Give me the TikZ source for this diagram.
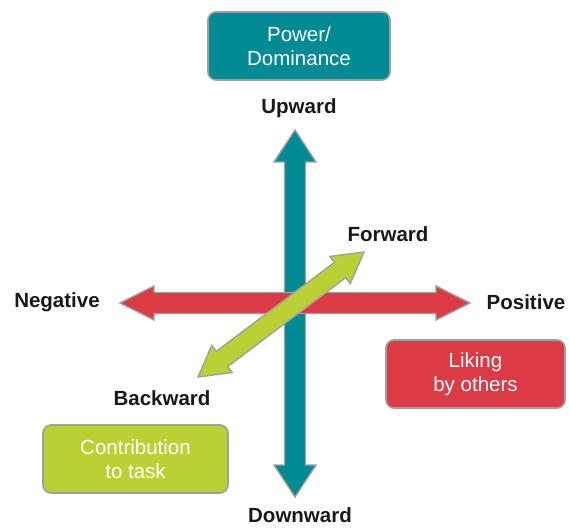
\documentclass[tikz,border=0pt]{standalone}
\usepackage{fontspec}
\setmainfont{Liberation Sans}
\usetikzlibrary{positioning}
\definecolor{tealc}{RGB}{0,138,148}
\definecolor{redc}{RGB}{220,58,69}
\definecolor{greenc}{RGB}{186,208,52}
\definecolor{edgec}{RGB}{160,160,160}
\tikzset{
  box/.style={draw=edgec, line width=1.6pt, rounded corners=8pt, minimum width=#1, minimum height=68pt,
    text=white, align=center, font=\fontsize{20.5}{24}\selectfont, inner sep=0pt},
  lab/.style={font=\bfseries\fontsize{20.5}{24}\selectfont, text=black!90, inner sep=0pt},
  arrline/.style={draw=edgec, line width=1.4pt, line join=miter}
}
% #1 length, #2 shaft half, #3 head half, #4 head length, #5 colour
\newcommand\fatarr[5]{%
  \draw[arrline, fill=#5] (0,0) -- (#4,#3) -- (#4,#2) -- (#1-#4,#2) -- (#1-#4,#3) -- (#1,0)
    -- (#1-#4,-#3) -- (#1-#4,-#2) -- (#4,-#2) -- (#4,-#3) -- cycle;}
\begin{document}
\begin{tikzpicture}[x=1pt,y=1pt]
\useasboundingbox (0,0) rectangle (569,527);
% vertical teal arrow
\coordinate (vbot) at (295,30);
\coordinate (vtop) at (295,397);
\begin{scope}[shift={(vbot)}, rotate=90]
  \fatarr{367}{10.5}{21}{32}{tealc}
\end{scope}
% horizontal red arrow
\coordinate (hleft) at (120,224);
\coordinate (hright) at (470,224);
\begin{scope}[shift={(hleft)}]
  \fatarr{350}{10.5}{17}{34}{redc}
\end{scope}
% diagonal green arrow
\coordinate (dlow) at (198,150);
\coordinate (dhigh) at (364,275);
\begin{scope}[shift={(dlow)}, rotate=36.98]
  \fatarr{207.8}{9.5}{17}{30}{greenc}
\end{scope}
% labels
\node[lab] (up) at (299,419) {Upward};
\node[lab] (down) at (300,12) {Downward};
\node[lab] (neg) at (57,225) {Negative};
\node[lab] (pos) at (526,225) {Positive};
\node[lab] (fwd) at (388,293) {Forward};
\node[lab] (bwd) at (162,129) {Backward};
% boxes
\node[box=182pt, fill=tealc] (power) at (299,481) {Power/\\Dominance};
\node[box=179pt, fill=redc] (liking) at (475.5,153) {Liking\\by others};
\node[box=185pt, fill=greenc] (contrib) at (135.5,68) {Contribution\\to task};
\end{tikzpicture}
\end{document}
